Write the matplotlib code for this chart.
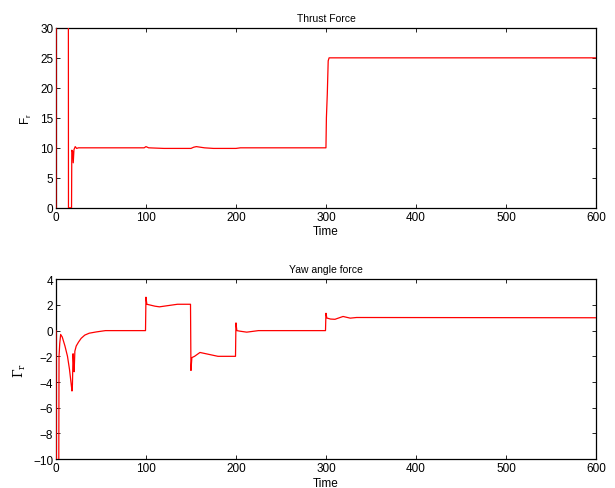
import matplotlib
matplotlib.use("Agg")
import matplotlib.pyplot as plt

plt.rcParams["font.family"] = ["Liberation Sans", "DejaVu Sans"]

# -----------------------------
# DATA
# -----------------------------
thrust_t = [0, 0.3, 13.7, 13.9, 17.3, 17.6, 18.5, 19.2, 20.0, 21.4, 23, 25, 60, 98, 100, 103, 120,
            150, 153, 156, 165, 175, 200, 205, 300, 300.5, 301.5, 302.5, 303.5, 310, 600]
thrust_f = [0, 60, 60, 0, 0, 9.6, 9.4, 7.5, 9.7, 10.2, 9.9, 10.0, 10.0, 10.0, 10.2, 10.0, 9.9,
            9.9, 10.1, 10.2, 10.0, 9.9, 9.9, 10.0, 10.0, 15.0, 19.0, 24.5, 25.0, 25.0, 25.0]

yaw_t = [0, 0.5, 3.0, 3.4, 4.2, 5.2, 7.0, 10.0, 12.8, 15.0, 17.8, 18.3, 19.0, 19.6, 20.2, 21.0, 22.5,
         25, 28, 32, 37, 45, 55, 99.5, 100, 101, 104, 110, 115, 125, 135, 149.5,
         150, 151, 154, 160, 170, 180, 199.5, 200, 201, 205, 212, 225, 299.5,
         300, 301, 305, 310, 319, 327, 334, 600]
yaw_g = [0, -15, -15, -2.0, -1.0, -0.3, -0.5, -1.2, -2.0, -3.0, -4.7, -4.2, -1.8, -2.5, -3.2, -1.6, -1.2,
         -0.9, -0.6, -0.35, -0.2, -0.1, 0.0, 0.0, 2.6, 2.05, 2.0, 1.9, 1.85, 1.95, 2.05, 2.05,
         -3.1, -2.1, -2.0, -1.7, -1.85, -2.0, -2.0, 0.6, 0.0, -0.05, -0.12, 0.0, 0.0,
         1.35, 0.98, 0.9, 0.88, 1.1, 0.97, 1.02, 1.0]

# -----------------------------
# PLOT
# -----------------------------
fig = plt.figure(figsize=(6.15, 4.89), dpi=100)
ax1 = fig.add_axes([0.091, 0.573, 0.878, 0.368])
ax2 = fig.add_axes([0.091, 0.059, 0.878, 0.368])

ax1.plot(thrust_t, thrust_f, color="red", lw=0.9, zorder=3)
ax1.set_xlim(0, 600)
ax1.set_ylim(0, 30)
ax1.set_yticks(range(0, 31, 5))
ax1.set_title("Thrust Force", fontsize=7.5, pad=5)
ax1.set_ylabel(r"F$_\mathregular{r}$", fontsize=8.5)
ax1.set_xlabel("Time", fontsize=8.5, labelpad=2)

ax2.plot(yaw_t, yaw_g, color="red", lw=0.9, zorder=3)
ax2.set_xlim(0, 600)
ax2.set_ylim(-10, 4)
ax2.set_yticks(range(-10, 5, 2))
ax2.set_title("Yaw angle force", fontsize=7.5, pad=5)
ax2.set_ylabel("Γ$_\\mathregular{r}$", fontsize=9, family=["DejaVu Serif"])
ax2.set_xlabel("Time", fontsize=8.5, labelpad=2)

for ax in (ax1, ax2):
    ax.set_xticks(range(0, 601, 100))
    ax.tick_params(direction="in", top=True, right=True, labelsize=8.5, length=3, width=0.6, pad=2)
    for s in ax.spines.values():
        s.set_linewidth(0.9)

plt.savefig("out.png", dpi=100)
plt.close()
